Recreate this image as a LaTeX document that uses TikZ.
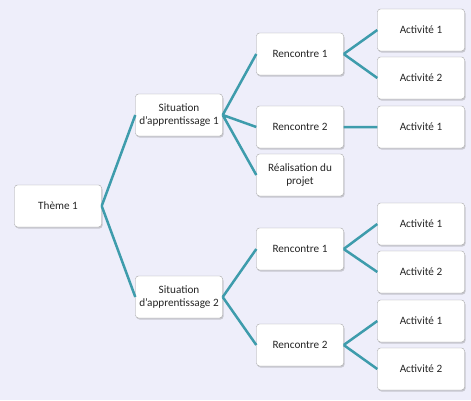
\documentclass[tikz,border=0pt]{standalone}
\usepackage{fontspec}
\setmainfont{Carlito}
\usetikzlibrary{shadows}
\definecolor{fond}{RGB}{238,238,250}
\definecolor{lien}{RGB}{62,156,172}
\begin{document}
\begin{tikzpicture}[x=1pt,y=-1pt,
    boite/.style={draw=gray!70,fill=white,rounded corners=3pt,minimum width=87pt,minimum height=42pt,
      align=center,font=\fontsize{11.2}{12.5}\selectfont,text=black!85,drop shadow={shadow xshift=1pt,shadow yshift=-1.5pt,opacity=.35}},
    lien/.style={draw=lien,line width=2.5pt}]
    \fill [fond](0,0) rectangle (471,400);
    \useasboundingbox (0,0) rectangle (471,400);
    \node [boite] (theme) at (58,206) {Thème 1};
    \node [boite] (sit1) at (179,115) {Situation\\d'apprentissage 1};
    \node [boite] (sit2) at (179,297) {Situation\\d'apprentissage 2};
    \node [boite] (r11) at (300,54) {Rencontre 1};
    \node [boite] (r12) at (300,127) {Rencontre 2};
    \node [boite] (real) at (300,175) {Réalisation du\\projet};
    \node [boite] (r21) at (300,249) {Rencontre 1};
    \node [boite] (r22) at (300,345) {Rencontre 2};
    \node [boite] (a111) at (421,30) {Activité 1};
    \node [boite] (a112) at (421,78) {Activité 2};
    \node [boite] (a121) at (421,127) {Activité 1};
    \node [boite] (a211) at (421,224) {Activité 1};
    \node [boite] (a212) at (421,272) {Activité 2};
    \node [boite] (a221) at (421,321) {Activité 1};
    \node [boite] (a222) at (421,369) {Activité 2};
    \draw [lien](theme.east)--(sit1.west) (theme.east)--(sit2.west);
    \draw [lien](sit1.east)--(r11.west) (sit1.east)--(r12.west) (sit1.east)--(real.west);
    \draw [lien](sit2.east)--(r21.west) (sit2.east)--(r22.west);
    \draw [lien](r11.east)--(a111.west) (r11.east)--(a112.west) (r12.east)--(a121.west);
    \draw [lien](r21.east)--(a211.west) (r21.east)--(a212.west);
    \draw [lien](r22.east)--(a221.west) (r22.east)--(a222.west);
\end{tikzpicture}
\end{document}
